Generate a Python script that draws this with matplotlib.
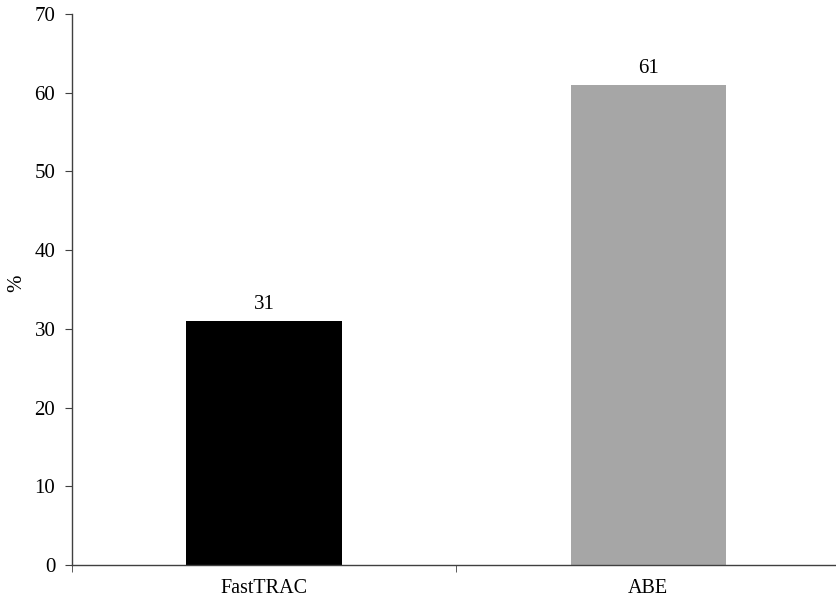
import matplotlib.pyplot as plt

plt.rcParams['font.family'] = ['Liberation Serif', 'DejaVu Serif']

categories = ['FastTRAC', 'ABE']
values = [31, 61]
colors = ['#000000', '#a6a6a6']

fig = plt.figure(figsize=(8.37, 5.98), dpi=100)
ax = fig.add_axes([0.086, 0.055, 0.918, 0.922])

x = range(len(categories))
ax.bar(x, values, width=0.404, color=colors, zorder=2)
for xi, v in zip(x, values):
    ax.text(xi, v + 0.9, str(v), ha='center', va='bottom', fontsize=15)

ax.set_ylim(0, 70)
ax.set_yticks(range(0, 71, 10))
ax.set_xlim(-0.5, 1.5)
ax.set_xticks([0, 1])
ax.set_xticklabels(categories, fontsize=14.5)
ax.set_xticks([-0.5, 0.5], minor=True)
ax.tick_params(axis='x', which='major', length=0, pad=10)
ax.tick_params(axis='x', which='minor', length=5, direction='out', color='#404040')
ax.tick_params(axis='y', labelsize=15, length=5, direction='out', color='#404040', pad=7)

# y label "%" placed at the left edge of the figure
fig.text(17 / 837, 1 - 283 / 598, '%', rotation=90, ha='center', va='center', fontsize=15)

for side in ['top', 'right']:
    ax.spines[side].set_visible(False)
for side in ['left', 'bottom']:
    ax.spines[side].set_color('#404040')
    ax.spines[side].set_linewidth(1.0)

fig.savefig('out.png', dpi=100)
